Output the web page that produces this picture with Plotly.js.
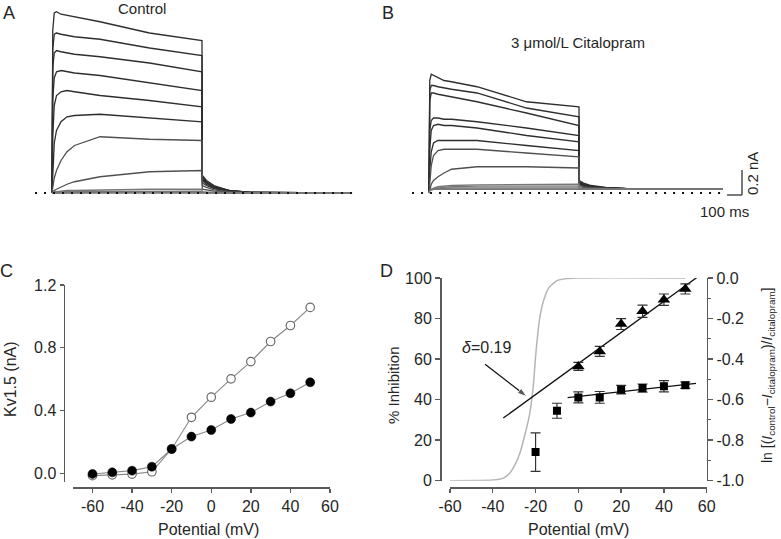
<!DOCTYPE html>
<html><head><meta charset="utf-8">
<script src="https://cdn.plot.ly/plotly-3.0.1.min.js"></script>
<style>html,body{margin:0;padding:0;background:#fff}#chart{width:781px;height:539px}</style>
</head><body><div id="chart"></div>
<script>
// ---------------- DATA ----------------
// Panels A/B: current traces (nA) sampled at times (ms) from pulse onset; sweeps +50 ... -60 mV
const sweepVoltages = [50, 40, 30, 20, 10, 0, -10, -20, -30, -40, -50, -60];
const tControl = [0, 5, 15, 30, 60, 100, 150, 320, 650, 1000, 1002, 1030, 1080, 1180, 1320, 1990];
const controlCurrents = [
  [0, 1.30, 1.44, 1.45, 1.43, 1.42, 1.41, 1.37, 1.28, 1.22, 0.14, 0.10, 0.06, 0.02, 0.005, 0],
  [0, 1.15, 1.27, 1.28, 1.27, 1.26, 1.25, 1.23, 1.16, 1.10, 0.13, 0.09, 0.05, 0.02, 0.005, 0],
  [0, 1.00, 1.12, 1.14, 1.13, 1.12, 1.11, 1.09, 1.04, 0.97, 0.12, 0.085, 0.05, 0.02, 0.005, 0],
  [0, 0.75, 0.92, 0.97, 0.98, 0.97, 0.96, 0.94, 0.88, 0.82, 0.11, 0.08, 0.045, 0.015, 0.005, 0],
  [0, 0.45, 0.70, 0.78, 0.81, 0.82, 0.81, 0.78, 0.74, 0.69, 0.10, 0.07, 0.04, 0.015, 0.005, 0],
  [0, 0.20, 0.40, 0.50, 0.57, 0.61, 0.62, 0.63, 0.60, 0.57, 0.08, 0.06, 0.035, 0.01, 0.003, 0],
  [0, 0.05, 0.12, 0.18, 0.26, 0.33, 0.38, 0.45, 0.43, 0.42, 0.06, 0.045, 0.025, 0.01, 0.003, 0],
  [0, 0.01, 0.02, 0.03, 0.05, 0.07, 0.09, 0.13, 0.17, 0.18, 0.03, 0.025, 0.015, 0.005, 0.002, 0],
  [0, 0.005, 0.01, 0.01, 0.015, 0.02, 0.02, 0.025, 0.03, 0.03, 0.01, 0.008, 0.005, 0.002, 0, 0],
  [0, 0, 0.005, 0.005, 0.01, 0.01, 0.01, 0.012, 0.015, 0.015, 0.005, 0.004, 0.003, 0.001, 0, 0],
  [0, 0, 0.003, 0.003, 0.005, 0.005, 0.005, 0.006, 0.008, 0.008, 0.003, 0.002, 0.001, 0, 0, 0],
  [0, 0, 0, 0, 0.002, 0.002, 0.002, 0.003, 0.004, 0.004, 0.001, 0.001, 0, 0, 0, 0]
];
const tCitalopram = [0, 5, 15, 30, 60, 100, 150, 320, 650, 1000, 1002, 1030, 1080, 1180, 1320, 1960];
const citalopramCurrents = [
  [0, 0.90, 0.95, 0.94, 0.92, 0.90, 0.89, 0.85, 0.73, 0.69, 0.10, 0.08, 0.06, 0.045, 0.035, 0.03],
  [0, 0.82, 0.86, 0.86, 0.85, 0.84, 0.83, 0.80, 0.68, 0.61, 0.09, 0.075, 0.055, 0.04, 0.035, 0.03],
  [0, 0.74, 0.80, 0.80, 0.79, 0.78, 0.77, 0.73, 0.64, 0.54, 0.085, 0.07, 0.05, 0.04, 0.035, 0.03],
  [0, 0.50, 0.58, 0.60, 0.60, 0.59, 0.59, 0.57, 0.52, 0.46, 0.08, 0.065, 0.05, 0.04, 0.035, 0.03],
  [0, 0.35, 0.50, 0.54, 0.55, 0.54, 0.54, 0.52, 0.46, 0.41, 0.075, 0.06, 0.045, 0.04, 0.035, 0.03],
  [0, 0.18, 0.33, 0.40, 0.42, 0.42, 0.42, 0.42, 0.38, 0.34, 0.07, 0.055, 0.045, 0.038, 0.033, 0.03],
  [0, 0.10, 0.22, 0.30, 0.34, 0.35, 0.35, 0.35, 0.32, 0.29, 0.065, 0.05, 0.04, 0.035, 0.033, 0.03],
  [0, 0.03, 0.07, 0.10, 0.13, 0.16, 0.19, 0.21, 0.21, 0.20, 0.05, 0.045, 0.04, 0.035, 0.032, 0.03],
  [0, 0.02, 0.03, 0.04, 0.05, 0.055, 0.06, 0.065, 0.07, 0.07, 0.04, 0.035, 0.033, 0.03, 0.03, 0.03],
  [0, 0.02, 0.03, 0.035, 0.04, 0.045, 0.05, 0.055, 0.055, 0.055, 0.035, 0.033, 0.03, 0.03, 0.03, 0.03],
  [0, 0.02, 0.025, 0.03, 0.035, 0.035, 0.04, 0.04, 0.04, 0.04, 0.03, 0.03, 0.03, 0.03, 0.03, 0.03],
  [0, 0.02, 0.025, 0.03, 0.03, 0.03, 0.03, 0.03, 0.03, 0.03, 0.03, 0.03, 0.03, 0.03, 0.03, 0.03]
];
const baselineSpanControl = [-113, 2033];
const baselineSpanCitalopram = [-113, 1973];
const scaleBarCurrent = 0.2;   // nA
const scaleBarTime = 100;      // ms

// Panel C: I-V relation
const ivVoltage = [-60, -50, -40, -30, -20, -10, 0, 10, 20, 30, 40, 50];
const ivControl = [-0.015, -0.01, -0.005, 0.01, 0.155, 0.357, 0.485, 0.602, 0.712, 0.84, 0.942, 1.057];
const ivCitalopram = [-0.004, 0.006, 0.017, 0.042, 0.155, 0.234, 0.276, 0.346, 0.387, 0.457, 0.51, 0.58];

// Panel D
const inhVoltage = [-20, -10, 0, 10, 20, 30, 40, 50];
const inhPercent = [14.1, 34.5, 41.1, 41.1, 44.9, 45.7, 46.6, 47.1];
const inhError = [9.5, 3.7, 2.7, 2.9, 2.1, 2.0, 2.8, 1.6];
const inhFitVoltage = [-5, 55];
const inhFitPercent = [41.0, 48.0];
const lnVoltage = [0, 10, 20, 30, 40, 50];
const lnValue = [-0.436, -0.362, -0.227, -0.164, -0.107, -0.054];
const lnError = [0.02, 0.025, 0.027, 0.03, 0.028, 0.025];
const lnFitVoltage = [-35.1, 56.1];
const lnFitValue = [-0.691, 0.008];
const actVoltage = [-60, -40, -35, -32, -29.6, -27.3, -25, -23.1, -21.6, -20.8, -20.1, -18.1, -16.2, -13.9, -10, -5.3, 0, 50];
const actPercent = [0, 0.3, 1.3, 3.8, 7.9, 13.7, 22.7, 31, 41.6, 50, 60, 80, 89, 95, 98.7, 99.7, 100, 100];
const deltaArrowVoltage = [-43.6, -24.1];
const deltaArrowPercent = [57.5, 41.5];

// Tick labels
const potentialTicks = [-60, -40, -20, 0, 20, 40, 60];
const potentialTickText = ['-60', '-40', '-20', '0', '20', '40', '60'];
const currentTicks = [0, 0.4, 0.8, 1.2];
const currentTickText = ['0.0', '0.4', '0.8', '1.2'];
const inhTicks = [0, 20, 40, 60, 80, 100];
const lnTicks = [-1, -0.8, -0.6, -0.4, -0.2, 0];
const lnTickText = ['-1.0', '-0.8', '-0.6', '-0.4', '-0.2', '0.0'];

// ---------------- LAYOUT HELPERS ----------------
const W = 781, H = 539;
const fx = p => p / W;
const fy = p => 1 - p / H;
const FONT = 'Liberation Sans, Arial, sans-serif';
const TXT = '#262626';
const AX = '#5a5a5a';
const PX_PER_MS = 0.15, PX_PER_NA = 125;
const A = {x0: 30, x1: 362, y0: 0, y1: 205, tx0: 52, base: 193};
const B = {x0: 400, x1: 781, y0: 0, y1: 225, tx0: 429, base: 193};
const tr = (P) => ({
  x: [(P.x0 - P.tx0) / PX_PER_MS, (P.x1 - P.tx0) / PX_PER_MS],
  y: [(P.base - P.y1) / PX_PER_NA, (P.base - P.y0) / PX_PER_NA]
});
const rA = tr(A), rB = tr(B);

const traces = [];
function sweepColor(i) { return i < 6 ? '#2e2e2e' : (i < 8 ? '#505050' : '#777'); }
controlCurrents.forEach((c, i) => traces.push({
  x: tControl, y: c, xaxis: 'x', yaxis: 'y', mode: 'lines', name: 'Control ' + sweepVoltages[i] + ' mV',
  line: {color: sweepColor(i), width: 1.3}, showlegend: false, hoverinfo: 'skip'
}));
traces.push({x: baselineSpanControl, y: [0, 0], xaxis: 'x', yaxis: 'y', mode: 'lines',
  line: {color: '#111', width: 2, dash: '2px,7px'}, showlegend: false, hoverinfo: 'skip'});
citalopramCurrents.forEach((c, i) => traces.push({
  x: tCitalopram, y: c, xaxis: 'x2', yaxis: 'y2', mode: 'lines', name: 'Citalopram ' + sweepVoltages[i] + ' mV',
  line: {color: sweepColor(i), width: 1.3}, showlegend: false, hoverinfo: 'skip'
}));
traces.push({x: baselineSpanCitalopram, y: [0, 0], xaxis: 'x2', yaxis: 'y2', mode: 'lines',
  line: {color: '#111', width: 2, dash: '2px,7px'}, showlegend: false, hoverinfo: 'skip'});

// Panel C
traces.push({x: ivVoltage, y: ivControl, xaxis: 'x3', yaxis: 'y3', mode: 'lines+markers', name: 'Control',
  line: {color: '#888', width: 1.1},
  marker: {symbol: 'circle', size: 8.5, color: '#fff', line: {color: '#6a6a6a', width: 1.2}}, showlegend: false});
traces.push({x: ivVoltage, y: ivCitalopram, xaxis: 'x3', yaxis: 'y3', mode: 'lines+markers', name: 'Citalopram',
  line: {color: '#888', width: 1.1},
  marker: {symbol: 'circle', size: 9, color: '#000', line: {color: '#000', width: 0.5}}, showlegend: false});

// Panel D
traces.push({x: actVoltage, y: actPercent, xaxis: 'x4', yaxis: 'y4', mode: 'lines',
  line: {color: '#b5b5b5', width: 1.5, shape: 'spline', smoothing: 0.6}, showlegend: false, hoverinfo: 'skip'});
traces.push({x: inhFitVoltage, y: inhFitPercent, xaxis: 'x4', yaxis: 'y4', mode: 'lines',
  line: {color: '#111', width: 1.3}, showlegend: false, hoverinfo: 'skip'});
traces.push({x: inhVoltage, y: inhPercent, xaxis: 'x4', yaxis: 'y4', mode: 'markers', name: '% Inhibition',
  marker: {symbol: 'square', size: 8, color: '#000'},
  error_y: {type: 'data', array: inhError, visible: true, color: '#333', thickness: 1.2, width: 5}, showlegend: false});
traces.push({x: lnFitVoltage, y: lnFitValue, xaxis: 'x4', yaxis: 'y5', mode: 'lines',
  line: {color: '#111', width: 1.3}, showlegend: false, hoverinfo: 'skip'});
traces.push({x: lnVoltage, y: lnValue, xaxis: 'x4', yaxis: 'y5', mode: 'markers', name: 'ln ratio',
  marker: {symbol: 'triangle-up', size: 11, color: '#000'},
  error_y: {type: 'data', array: lnError, visible: true, color: '#333', thickness: 1.2, width: 5}, showlegend: false});
traces.push({x: deltaArrowVoltage, y: deltaArrowPercent, xaxis: 'x4', yaxis: 'y4', mode: 'lines+markers',
  line: {color: '#111', width: 1.3},
  marker: {symbol: 'arrow', size: [0, 10], angleref: 'previous', color: '#111'}, showlegend: false, hoverinfo: 'skip'});

const hidden = {visible: false, fixedrange: true, showgrid: false, zeroline: false};
const axBase = {
  showline: true, linecolor: AX, linewidth: 1.5, ticks: 'outside', ticklen: 4, tickwidth: 1.4,
  tickcolor: AX, showgrid: false, zeroline: false, fixedrange: true, tickmode: 'array',
  tickfont: {family: FONT, size: 16, color: TXT}
};

const sbX = (742 - B.tx0) / PX_PER_MS, sbY = (B.base - 195) / PX_PER_NA;

const ann = (px, py, text, size, extra) => Object.assign({
  xref: 'paper', yref: 'paper', x: fx(px), y: fy(py), text: text, showarrow: false,
  xanchor: 'center', yanchor: 'middle', font: {family: FONT, size: size, color: TXT}
}, extra || {});

const layout = {
  width: W, height: H, margin: {l: 0, r: 0, t: 0, b: 0},
  paper_bgcolor: '#fff', plot_bgcolor: 'rgba(0,0,0,0)', showlegend: false,
  font: {family: FONT, color: TXT},
  xaxis: Object.assign({}, hidden, {domain: [fx(A.x0), fx(A.x1)], range: rA.x, anchor: 'y'}),
  yaxis: Object.assign({}, hidden, {domain: [fy(A.y1), fy(A.y0)], range: rA.y, anchor: 'x'}),
  xaxis2: Object.assign({}, hidden, {domain: [fx(B.x0), fx(B.x1)], range: rB.x, anchor: 'y2'}),
  yaxis2: Object.assign({}, hidden, {domain: [fy(B.y1), fy(B.y0)], range: rB.y, anchor: 'x2'}),
  xaxis3: Object.assign({}, axBase, {domain: [fx(72.7), fx(330)], range: [-70, 60], anchor: 'free',
    position: fy(487), tickvals: potentialTicks, ticktext: potentialTickText}),
  yaxis3: Object.assign({}, axBase, {domain: [fy(481.7), fy(285)], range: [-0.0535, 1.2], anchor: 'free',
    position: fx(63.5), tickvals: currentTicks, ticktext: currentTickText}),
  xaxis4: Object.assign({}, axBase, {domain: [fx(450), fx(706.7)], range: [-60, 60], anchor: 'free',
    position: fy(487.3), tickvals: potentialTicks, ticktext: potentialTickText}),
  yaxis4: Object.assign({}, axBase, {domain: [fy(480.7), fy(278)], range: [0, 100], anchor: 'free',
    position: fx(440), tickvals: inhTicks, ticklen: 5}),
  yaxis5: Object.assign({}, axBase, {overlaying: 'y4', side: 'right', anchor: 'x4', range: [-1, 0],
    tickvals: lnTicks, ticktext: lnTickText, ticklen: 5,
    minor: {dtick: 0.1, ticks: 'outside', ticklen: 3, tickwidth: 1.2, tickcolor: AX}}),
  shapes: [
    {type: 'line', xref: 'x2', yref: 'y2', x0: sbX, x1: sbX, y0: sbY, y1: sbY + scaleBarCurrent,
      line: {color: '#333', width: 1.3}},
    {type: 'line', xref: 'x2', yref: 'y2', x0: sbX - scaleBarTime, x1: sbX, y0: sbY, y1: sbY,
      line: {color: '#333', width: 1.3}}
  ],
  annotations: [
    ann(9, 13, 'A', 18), ann(388, 13, 'B', 18), ann(6, 271, 'C', 18), ann(386, 271, 'D', 18),
    ann(142, 9, 'Control', 15),
    ann(578, 43, '3 μmol/L Citalopram', 15),
    ann(752, 174, '0.2 nA', 15, {textangle: -90}),
    ann(724, 211, '100 ms', 15),
    ann(10, 379, 'Kv1.5 (nA)', 16, {textangle: -90}),
    ann(208, 529, 'Potential (mV)', 16),
    ann(578, 529, 'Potential (mV)', 16),
    ann(393, 385, '% Inhibition', 15, {textangle: -90}),
    ann(768, 376, 'ln [(<i>I</i><sub>control</sub>−<i>I</i><sub>citalopram</sub>)/<i>I</i><sub>citalopram</sub>]', 14, {textangle: -90}),
    {xref: 'x4', yref: 'y4', x: -42.8, y: 65.5, text: '<i>δ</i>=0.19', showarrow: false,
      xanchor: 'center', yanchor: 'middle', font: {family: FONT, size: 16, color: TXT}}
  ]
};

Plotly.newPlot('chart', traces, layout, {displayModeBar: false, staticPlot: true});
</script></body></html>
